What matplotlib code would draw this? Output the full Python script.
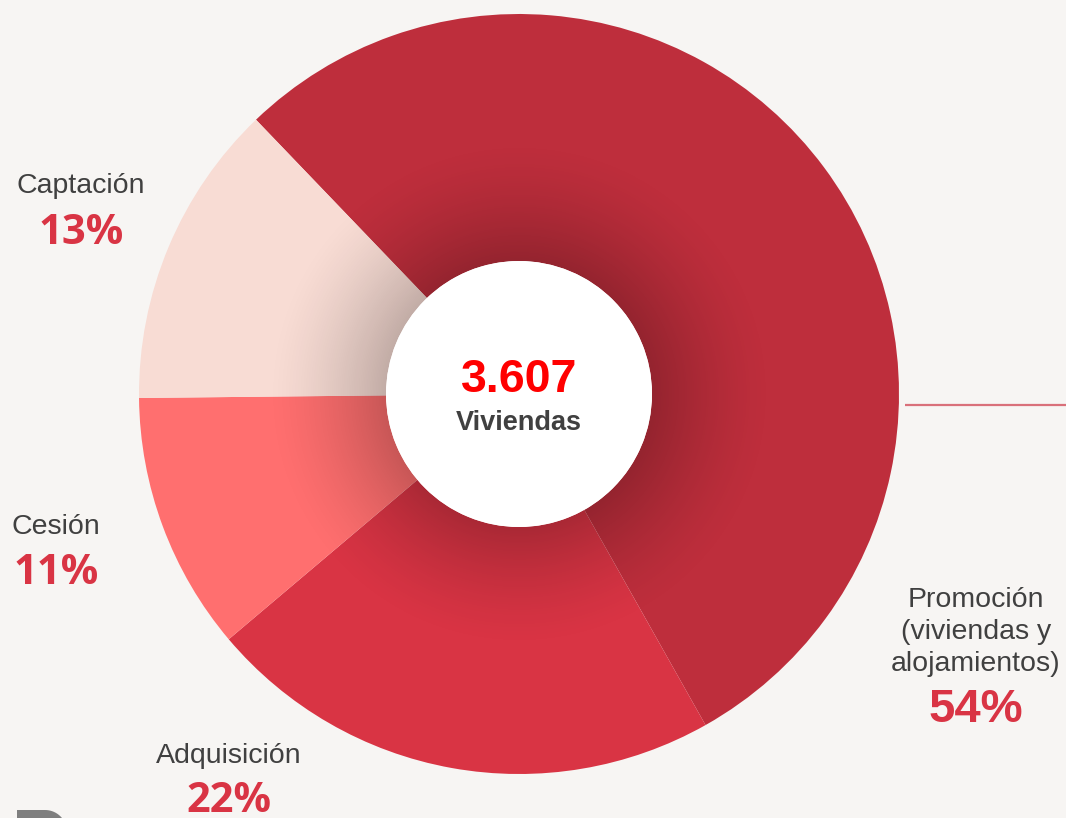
import numpy as np
import matplotlib.pyplot as plt
from matplotlib.patches import Wedge, Circle, Polygon

# data
categories = ["Promoción", "Adquisición", "Cesión", "Captación"]
shares = [54, 22, 11, 13]
colors = ["#BE2E3C", "#D93444", "#FF6F6F", "#F8DCD4"]
total_label = "3.607"
total_unit = "Viviendas"

BG = "#F7F5F3"
PCT_COLOR = "#D93444"
TXT_COLOR = "#404040"

W, H = 1066, 818
CX, CY, R = 519, 394, 380
R_IN = 133 / R


def px(x, y):
    # pixel position -> data coords (pie radius 1)
    return (x - CX) / R, (CY - y) / R


fig = plt.figure(figsize=(W / 100, H / 100), dpi=100, facecolor=BG)
ax = fig.add_axes([0, 0, 1, 1])
ax.set_facecolor(BG)

wedges, _ = ax.pie(
    shares,
    colors=colors,
    startangle=133.8,
    counterclock=False,
    radius=1,
    wedgeprops=dict(width=1 - R_IN, linewidth=0),
)
ax.axis("off")

# inner shadow around the hole
n = 800
xs = np.linspace(-1, 1, n)
xx, yy = np.meshgrid(xs, xs)
rr = np.hypot(xx, yy)
t = np.clip((rr - R_IN) / 0.32, 0, 1)
alpha = 0.22 * (1 - t) ** 1.5
shade = np.zeros((n, n, 4))
shade[..., 3] = alpha
ring = Wedge((0, 0), 1, 0, 360, width=1 - R_IN, facecolor="none", edgecolor="none")
ax.add_patch(ring)
im = ax.imshow(shade, extent=(-1, 1, -1, 1), origin="lower", zorder=3,
               interpolation="bilinear", aspect="auto")
im.set_clip_path(ring)
ax.set_aspect("auto")
ax.set_xlim(-CX / R, (W - CX) / R)
ax.set_ylim(-(H - CY) / R, CY / R)

ax.add_patch(Circle((0, 0), R_IN, facecolor="white", edgecolor="none", zorder=4))

ax.text(*px(519, 380), total_label, ha="center", va="center", fontsize=33.5,
        fontweight="bold", color="#FF0000", family="Liberation Sans", zorder=5)
ax.text(*px(519, 423), total_unit, ha="center", va="center", fontsize=19.5,
        fontweight="bold", color=TXT_COLOR, family="Liberation Sans", zorder=5)

# labels
label_specs = [
    ("Captación", 81, 186, "13%", 233, "Open Sans"),
    ("Cesión", 56, 527, "11%", 574, "Open Sans"),
    ("Adquisición", 229, 756, "22%", 802, "Open Sans"),
    ("Promoción\n(viviendas y\nalojamientos)", 976, 632, "54%", 710, "Liberation Sans"),
]
for text, x, y, pct, py, fam in label_specs:
    ax.text(*px(x, y), text, ha="center", va="center", fontsize=20.5,
            color=TXT_COLOR, family="Liberation Sans", linespacing=1.3)
    ax.text(*px(x, py), pct, ha="center", va="center",
            fontsize=30 if fam == "Open Sans" else 34,
            fontweight="bold", color=PCT_COLOR, family=fam)

# connector line to the right
ax.plot([px(905, 405)[0], px(1066, 405)[0]], [px(905, 405)[1]] * 2,
        color="#D9707A", linewidth=1.6, solid_capstyle="butt")

# partial logo shape at bottom-left (top of a grey glyph, cut by the frame)
ang = np.linspace(np.pi / 2, 0, 20)
rc = 22
corner = [px(67 - rc + rc * np.cos(a), 810 + rc - rc * np.sin(a)) for a in ang]
logo = [px(17, 830), px(17, 810)] + corner + [px(67, 830)]
ax.add_patch(Polygon(logo, closed=True, facecolor="#7F7F7F", edgecolor="none"))

fig.savefig("out.png", dpi=100, facecolor=BG)
